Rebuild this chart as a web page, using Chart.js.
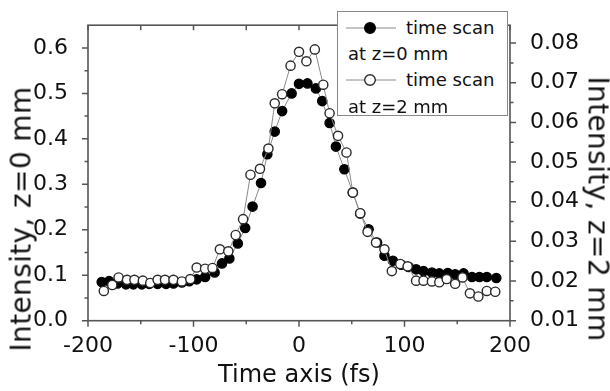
<!DOCTYPE html>
<html><head><meta charset="utf-8">
<script src="https://cdn.jsdelivr.net/npm/chart.js@4.4.0/dist/chart.umd.min.js"></script>
<style>
html,body{margin:0;padding:0;background:#fff;}
#wrap{position:relative;width:610px;height:391px;overflow:hidden;font-family:'DejaVu Sans',sans-serif;color:#111;}
canvas{position:absolute;left:0;top:0;}
.ytitle{position:absolute;white-space:pre;font-size:28px;line-height:28px;}
#legend{position:absolute;left:337px;top:11px;width:171px;height:105px;border:1.5px solid #888;background:#fff;box-sizing:border-box;}
#legend span{position:absolute;white-space:pre;font-size:18.5px;line-height:22px;}
#legend svg{position:absolute;}
</style></head><body>
<div id="wrap">
<canvas id="c" width="610" height="391"></canvas>
<div class="ytitle" id="tl" data-w="265">Intensity, z=0 mm</div>
<div class="ytitle" id="tr" data-w="265">Intensity, z=2 mm</div>
<div id="legend">
  <svg style="left:8px;top:8px" width="52" height="16"><line x1="0" y1="8" x2="50" y2="8" stroke="#8a8a8a" stroke-width="1"/><circle cx="24" cy="8" r="5.3" fill="#000" stroke="#000" stroke-width="1.4"/></svg>
  <span class="lg" data-w="89" style="left:68px;top:5px">time scan</span>
  <span class="lg" data-w="100" style="left:10px;top:31px">at z=0 mm</span>
  <svg style="left:8px;top:60px" width="52" height="16"><line x1="0" y1="8" x2="50" y2="8" stroke="#8a8a8a" stroke-width="1"/><circle cx="24" cy="8" r="5.3" fill="#fff" stroke="#2a2a2a" stroke-width="1.4"/></svg>
  <span class="lg" data-w="89" style="left:68px;top:57px">time scan</span>
  <span class="lg" data-w="100" style="left:10px;top:84px">at z=2 mm</span>
</div>
</div>
<script>
// ---- data ----
const timeZ0 = [-187,-180,-172,-164,-157,-149,-142,-134,-126,-119,-111,-104,-97,-89,-80,-73,-66,-58,-51,-44,-36,-30,-23,-16,-7,0,8,16,22,29,35,43,51,58,66,74,81,89,97,104,111,118,126,133,141,148,156,164,171,178,187];
const intensityZ0 = [0.085,0.087,0.082,0.080,0.080,0.080,0.081,0.081,0.081,0.082,0.084,0.087,0.091,0.096,0.106,0.126,0.137,0.170,0.204,0.251,0.303,0.366,0.416,0.461,0.500,0.521,0.522,0.511,0.483,0.435,0.383,0.333,0.282,0.236,0.201,0.172,0.143,0.132,0.123,0.118,0.113,0.109,0.106,0.104,0.105,0.102,0.104,0.096,0.096,0.096,0.094];
const timeZ2 = [-185,-177,-171,-163,-156,-148,-141,-134,-127,-119,-111,-103,-97,-89,-82,-75,-67,-60,-53,-46,-37,-29,-23,-16,-8,0,7,15,23,29,37,45,51,58,65,73,81,88,96,103,111,118,126,133,140,148,155,162,170,178,186];
const intensityZ2 = [0.0175,0.0190,0.0209,0.0203,0.0203,0.0201,0.0195,0.0203,0.0203,0.0203,0.0199,0.0205,0.0234,0.0231,0.0233,0.0280,0.0275,0.0316,0.0356,0.0468,0.0483,0.0534,0.0648,0.0671,0.0743,0.0778,0.0754,0.0784,0.0695,0.0623,0.0566,0.0524,0.0423,0.0371,0.0324,0.0297,0.0280,0.0225,0.0243,0.0237,0.0201,0.0201,0.0199,0.0197,0.0205,0.0193,0.0209,0.0169,0.0161,0.0175,0.0173];

const xTickValues = [-200,-100,0,100,200];
const xMinorValues = [-150,-50,50,150];
const leftTickValues = [0,0.1,0.2,0.3,0.4,0.5,0.6];
const leftMinorValues = [0.05,0.15,0.25,0.35,0.45,0.55];
const rightTickValues = [0.01,0.02,0.03,0.04,0.05,0.06,0.07,0.08];
const rightMinorValues = [0.015,0.025,0.035,0.045,0.055,0.065,0.075];

const AXIS = '#555';
const FONT = 'DejaVu Sans';

// fit overlay texts to the measured lengths of the reference
document.querySelectorAll('.ytitle').forEach(el => {
  const target = +el.dataset.w;
  const w = el.offsetWidth;
  const n = el.textContent.length;
  el.style.letterSpacing = ((target - w) / n) + 'px';
});
document.querySelectorAll('.lg').forEach(el => {
  const target = +el.dataset.w;
  const w = el.offsetWidth;
  el.style.fontSize = (18.5 * target / w) + 'px';
});
const placeTitle = (el, cx, cy, deg) => {
  const w = el.offsetWidth, h = el.offsetHeight;
  el.style.left = (cx - w / 2) + 'px';
  el.style.top = (cy - h / 2) + 'px';
  el.style.transform = 'rotate(' + deg + 'deg)';
};
placeTitle(document.getElementById('tl'), 21.7, 218.5, -90);
placeTitle(document.getElementById('tr'), 597, 208.5, 90);

const framePlugin = {
  id: 'frame',
  afterDraw(chart) {
    const ctx = chart.ctx, ca = chart.chartArea;
    const xs = chart.scales.x, yl = chart.scales.y, yr = chart.scales.y2;
    ctx.save();
    ctx.strokeStyle = AXIS;
    ctx.lineWidth = 1.5;
    ctx.beginPath();
    const seg = (x1,y1,x2,y2) => { ctx.moveTo(x1,y1); ctx.lineTo(x2,y2); };
    xTickValues.forEach(v => { const p = xs.getPixelForValue(v); seg(p, ca.bottom, p, ca.bottom + 6); seg(p, ca.top, p, ca.top + 5); });
    xMinorValues.forEach(v => { const p = xs.getPixelForValue(v); seg(p, ca.bottom, p, ca.bottom + 3.5); seg(p, ca.top, p, ca.top + 5); });
    leftTickValues.forEach(v => { const p = yl.getPixelForValue(v); seg(ca.left - 6, p, ca.left, p); });
    leftMinorValues.forEach(v => { const p = yl.getPixelForValue(v); seg(ca.left - 3.5, p, ca.left, p); });
    rightTickValues.forEach(v => { const p = yr.getPixelForValue(v); seg(ca.right, p, ca.right + 6, p); });
    rightMinorValues.forEach(v => { const p = yr.getPixelForValue(v); seg(ca.right, p, ca.right + 3.5, p); });
    ctx.stroke();
    ctx.lineWidth = 1.6;
    ctx.strokeRect(ca.left, ca.top, ca.right - ca.left, ca.bottom - ca.top);
    ctx.restore();
  }
};

const tickFont = { family: FONT, size: 22 };
const setTicks = vals => s => { s.ticks = vals.map(v => ({ value: v })); };

new Chart(document.getElementById('c').getContext('2d'), {
  type: 'line',
  data: {
    datasets: [
      {
        label: 'time scan at z=0 mm',
        data: timeZ0.map((t, i) => ({ x: t, y: intensityZ0[i] })),
        yAxisID: 'y',
        borderColor: '#8a8a8a', borderWidth: 1,
        pointRadius: 4.6, pointBorderWidth: 1.4,
        pointBackgroundColor: '#000', pointBorderColor: '#000',
        order: 2
      },
      {
        label: 'time scan at z=2 mm',
        data: timeZ2.map((t, i) => ({ x: t, y: intensityZ2[i] })),
        yAxisID: 'y2',
        borderColor: '#8a8a8a', borderWidth: 1,
        pointRadius: 4.6, pointBorderWidth: 1.4,
        pointBackgroundColor: '#fff', pointBorderColor: '#2a2a2a',
        order: 1
      }
    ]
  },
  options: {
    responsive: false, animation: false, devicePixelRatio: 1,
    layout: { padding: { top: 8.25, left: 0, right: 0, bottom: 0 } },
    plugins: { legend: { display: false }, tooltip: { enabled: false } },
    scales: {
      x: {
        type: 'linear', position: 'bottom', min: -200, max: 200,
        afterBuildTicks: setTicks(xTickValues),
        afterFit: s => { s.height = 70.3; },
        grid: { display: false }, border: { display: false },
        ticks: { padding: 4, color: '#111', font: tickFont, maxRotation: 0, autoSkip: false, callback: v => String(v) },
        title: { display: true, text: 'Time axis (fs)', color: '#111', font: { family: FONT, size: 24 }, padding: { top: 0, bottom: 1 } }
      },
      y: {
        type: 'linear', position: 'left', min: 0, max: 0.65,
        afterBuildTicks: setTicks(leftTickValues),
        afterFit: s => { s.width = 88; },
        grid: { display: false }, border: { display: false },
        ticks: { padding: 12, color: '#111', font: tickFont, autoSkip: false, callback: v => v.toFixed(1) }
      },
      y2: {
        type: 'linear', position: 'right', min: 0.01, max: 0.0845,
        afterBuildTicks: setTicks(rightTickValues),
        afterFit: s => { s.width = 100; },
        grid: { display: false }, border: { display: false },
        ticks: { padding: 12, color: '#111', font: tickFont, autoSkip: false, callback: v => v.toFixed(2) }
      }
    }
  },
  plugins: [framePlugin]
});
</script>
</body></html>
